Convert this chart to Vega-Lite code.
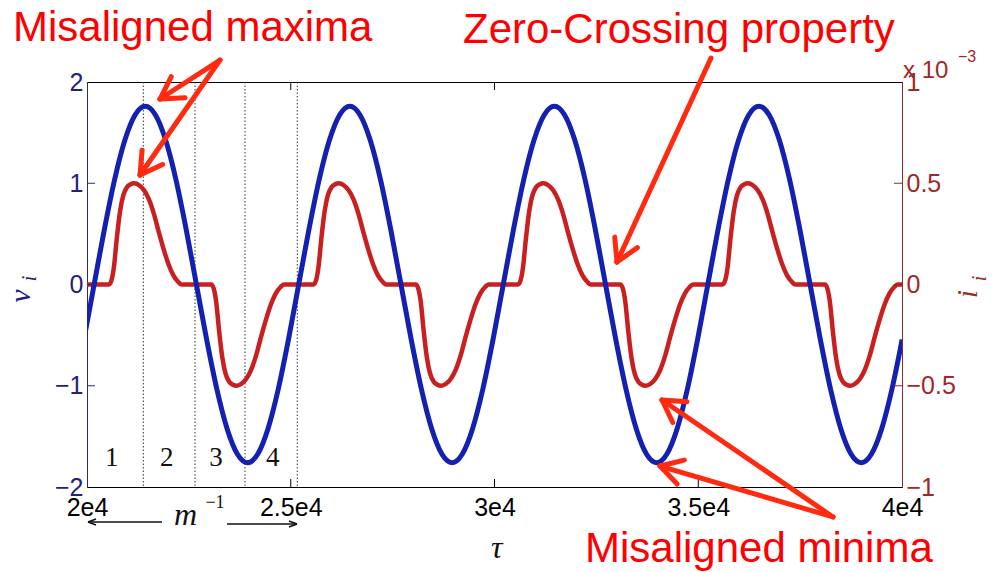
{
  "$schema": "https://vega.github.io/schema/vega-lite/v6.json",
  "width": 815,
  "height": 405,
  "autosize": {"type": "none"},
  "padding": {"left": 87, "top": 82, "right": 90, "bottom": 85},
  "background": "white",
  "config": {"view": {"stroke": "#000", "strokeWidth": 1}, "axis": {"domainWidth": 1}},
  "datasets": {
    "blue": [
      {"x":19924,"y":-0.544},{"x":20175,"y":0},{"x":20426,"y":0.544},{"x":20677,"y":1.035},{"x":20928,"y":1.424},{"x":21179,"y":1.674},
      {"x":21430,"y":1.76},{"x":21681,"y":1.674},{"x":21932,"y":1.424},{"x":22183,"y":1.035},{"x":22434,"y":0.544},{"x":22685,"y":0},
      {"x":22936,"y":-0.544},{"x":23187,"y":-1.035},{"x":23438,"y":-1.424},{"x":23689,"y":-1.674},{"x":23940,"y":-1.76},{"x":24191,"y":-1.674},
      {"x":24442,"y":-1.424},{"x":24693,"y":-1.035},{"x":24944,"y":-0.544},{"x":25195,"y":0},{"x":25446,"y":0.544},{"x":25697,"y":1.035},
      {"x":25948,"y":1.424},{"x":26199,"y":1.674},{"x":26450,"y":1.76},{"x":26701,"y":1.674},{"x":26952,"y":1.424},{"x":27203,"y":1.035},
      {"x":27454,"y":0.544},{"x":27705,"y":0},{"x":27956,"y":-0.544},{"x":28207,"y":-1.035},{"x":28458,"y":-1.424},{"x":28709,"y":-1.674},
      {"x":28960,"y":-1.76},{"x":29211,"y":-1.674},{"x":29462,"y":-1.424},{"x":29713,"y":-1.035},{"x":29964,"y":-0.544},{"x":30215,"y":0},
      {"x":30466,"y":0.544},{"x":30717,"y":1.035},{"x":30968,"y":1.424},{"x":31219,"y":1.674},{"x":31470,"y":1.76},{"x":31721,"y":1.674},
      {"x":31972,"y":1.424},{"x":32223,"y":1.035},{"x":32474,"y":0.544},{"x":32725,"y":0},{"x":32976,"y":-0.544},{"x":33227,"y":-1.035},
      {"x":33478,"y":-1.424},{"x":33729,"y":-1.674},{"x":33980,"y":-1.76},{"x":34231,"y":-1.674},{"x":34482,"y":-1.424},{"x":34733,"y":-1.035},
      {"x":34984,"y":-0.544},{"x":35235,"y":0},{"x":35486,"y":0.544},{"x":35737,"y":1.035},{"x":35988,"y":1.424},{"x":36239,"y":1.674},
      {"x":36490,"y":1.76},{"x":36741,"y":1.674},{"x":36992,"y":1.424},{"x":37243,"y":1.035},{"x":37494,"y":0.544},{"x":37745,"y":0},
      {"x":37996,"y":-0.544},{"x":38247,"y":-1.035},{"x":38498,"y":-1.424},{"x":38749,"y":-1.674},{"x":39000,"y":-1.76},{"x":39251,"y":-1.674},
      {"x":39502,"y":-1.424},{"x":39753,"y":-1.035},{"x":40004,"y":-0.544}
    ],
    "red": [
      {"x":20000,"y":0},
      {"x":20540,"y":0},{"x":20600,"y":0.02},{"x":20660,"y":0.085},{"x":20730,"y":0.225},{"x":20810,"y":0.36},{"x":20890,"y":0.44},{"x":20980,"y":0.48},{"x":21070,"y":0.495},{"x":21160,"y":0.5},{"x":21280,"y":0.49},{"x":21400,"y":0.465},{"x":21520,"y":0.42},{"x":21640,"y":0.35},{"x":21760,"y":0.26},{"x":21880,"y":0.175},{"x":22000,"y":0.1},{"x":22120,"y":0.045},{"x":22240,"y":0.0125},{"x":22320,"y":0},
      {"x":23050,"y":0},{"x":23110,"y":-0.02},{"x":23170,"y":-0.085},{"x":23240,"y":-0.225},{"x":23320,"y":-0.36},{"x":23400,"y":-0.44},{"x":23490,"y":-0.48},{"x":23580,"y":-0.495},{"x":23670,"y":-0.5},{"x":23790,"y":-0.49},{"x":23910,"y":-0.465},{"x":24030,"y":-0.42},{"x":24150,"y":-0.35},{"x":24270,"y":-0.26},{"x":24390,"y":-0.175},{"x":24510,"y":-0.1},{"x":24630,"y":-0.045},{"x":24750,"y":-0.0125},{"x":24830,"y":0},
      {"x":25560,"y":0},{"x":25620,"y":0.02},{"x":25680,"y":0.085},{"x":25750,"y":0.225},{"x":25830,"y":0.36},{"x":25910,"y":0.44},{"x":26000,"y":0.48},{"x":26090,"y":0.495},{"x":26180,"y":0.5},{"x":26300,"y":0.49},{"x":26420,"y":0.465},{"x":26540,"y":0.42},{"x":26660,"y":0.35},{"x":26780,"y":0.26},{"x":26900,"y":0.175},{"x":27020,"y":0.1},{"x":27140,"y":0.045},{"x":27260,"y":0.0125},{"x":27340,"y":0},
      {"x":28070,"y":0},{"x":28130,"y":-0.02},{"x":28190,"y":-0.085},{"x":28260,"y":-0.225},{"x":28340,"y":-0.36},{"x":28420,"y":-0.44},{"x":28510,"y":-0.48},{"x":28600,"y":-0.495},{"x":28690,"y":-0.5},{"x":28810,"y":-0.49},{"x":28930,"y":-0.465},{"x":29050,"y":-0.42},{"x":29170,"y":-0.35},{"x":29290,"y":-0.26},{"x":29410,"y":-0.175},{"x":29530,"y":-0.1},{"x":29650,"y":-0.045},{"x":29770,"y":-0.0125},{"x":29850,"y":0},
      {"x":30580,"y":0},{"x":30640,"y":0.02},{"x":30700,"y":0.085},{"x":30770,"y":0.225},{"x":30850,"y":0.36},{"x":30930,"y":0.44},{"x":31020,"y":0.48},{"x":31110,"y":0.495},{"x":31200,"y":0.5},{"x":31320,"y":0.49},{"x":31440,"y":0.465},{"x":31560,"y":0.42},{"x":31680,"y":0.35},{"x":31800,"y":0.26},{"x":31920,"y":0.175},{"x":32040,"y":0.1},{"x":32160,"y":0.045},{"x":32280,"y":0.0125},{"x":32360,"y":0},
      {"x":33090,"y":0},{"x":33150,"y":-0.02},{"x":33210,"y":-0.085},{"x":33280,"y":-0.225},{"x":33360,"y":-0.36},{"x":33440,"y":-0.44},{"x":33530,"y":-0.48},{"x":33620,"y":-0.495},{"x":33710,"y":-0.5},{"x":33830,"y":-0.49},{"x":33950,"y":-0.465},{"x":34070,"y":-0.42},{"x":34190,"y":-0.35},{"x":34310,"y":-0.26},{"x":34430,"y":-0.175},{"x":34550,"y":-0.1},{"x":34670,"y":-0.045},{"x":34790,"y":-0.0125},{"x":34870,"y":0},
      {"x":35600,"y":0},{"x":35660,"y":0.02},{"x":35720,"y":0.085},{"x":35790,"y":0.225},{"x":35870,"y":0.36},{"x":35950,"y":0.44},{"x":36040,"y":0.48},{"x":36130,"y":0.495},{"x":36220,"y":0.5},{"x":36340,"y":0.49},{"x":36460,"y":0.465},{"x":36580,"y":0.42},{"x":36700,"y":0.35},{"x":36820,"y":0.26},{"x":36940,"y":0.175},{"x":37060,"y":0.1},{"x":37180,"y":0.045},{"x":37300,"y":0.0125},{"x":37380,"y":0},
      {"x":38110,"y":0},{"x":38170,"y":-0.02},{"x":38230,"y":-0.085},{"x":38300,"y":-0.225},{"x":38380,"y":-0.36},{"x":38460,"y":-0.44},{"x":38550,"y":-0.48},{"x":38640,"y":-0.495},{"x":38730,"y":-0.5},{"x":38850,"y":-0.49},{"x":38970,"y":-0.465},{"x":39090,"y":-0.42},{"x":39210,"y":-0.35},{"x":39330,"y":-0.26},{"x":39450,"y":-0.175},{"x":39570,"y":-0.1},{"x":39690,"y":-0.045},{"x":39810,"y":-0.0125},{"x":39890,"y":0},{"x":40000,"y":0}
    ],
    "vlines": [{"x":21382},{"x":22650},{"x":23877},{"x":25160}],
    "ticks": [
      {"side":"left","x":20000,"x2":20196,"y":-1,"y2":-1},
      {"side":"left","x":20000,"x2":20196,"y":0,"y2":0},
      {"side":"left","x":20000,"x2":20196,"y":1,"y2":1},
      {"side":"right","x":40000,"x2":39804,"y":-1,"y2":-1},
      {"side":"right","x":40000,"x2":39804,"y":0,"y2":0},
      {"side":"right","x":40000,"x2":39804,"y":1,"y2":1},
      {"side":"x","x":25000,"x2":25000,"y":-2,"y2":-1.921},
      {"side":"x","x":30000,"x2":30000,"y":-2,"y2":-1.921},
      {"side":"x","x":35000,"x2":35000,"y":-2,"y2":-1.921},
      {"side":"x","x":25000,"x2":25000,"y":2,"y2":1.921},
      {"side":"x","x":30000,"x2":30000,"y":2,"y2":1.921},
      {"side":"x","x":35000,"x2":35000,"y":2,"y2":1.921}
    ],
    "arrows": [
      {"g":"red","x":23264,"y":2.217,"x2":21791,"y2":1.832},
      {"g":"red","x":21791,"y":1.832,"x2":22405,"y2":1.845},
      {"g":"red","x":21791,"y":1.832,"x2":22069,"y2":2.052},
      {"g":"red","x":23264,"y":2.217,"x2":21301,"y2":1.081},
      {"g":"red","x":21301,"y":1.081,"x2":21855,"y2":1.186},
      {"g":"red","x":21301,"y":1.081,"x2":21352,"y2":1.327},
      {"g":"red","x":35313,"y":2.237,"x2":33006,"y2":0.222},
      {"g":"red","x":33006,"y":0.222,"x2":33507,"y2":0.364},
      {"g":"red","x":33006,"y":0.222,"x2":32950,"y2":0.468},
      {"g":"red","x":38307,"y":-2.296,"x2":34111,"y2":-1.141},
      {"g":"red","x":34111,"y":-1.141,"x2":34375,"y2":-1.363},
      {"g":"red","x":34111,"y":-1.141,"x2":34722,"y2":-1.159},
      {"g":"red","x":38307,"y":-2.296,"x2":34061,"y2":-1.793},
      {"g":"red","x":34061,"y":-1.793,"x2":34483,"y2":-1.971},
      {"g":"red","x":34061,"y":-1.793,"x2":34658,"y2":-1.734},
      {"g":"black","x":21841,"y":-2.346,"x2":20025,"y2":-2.346},
      {"g":"black","x":20025,"y":-2.346,"x2":20221,"y2":-2.316},
      {"g":"black","x":20025,"y":-2.346,"x2":20221,"y2":-2.375},
      {"g":"black","x":23436,"y":-2.365,"x2":25153,"y2":-2.365},
      {"g":"black","x":25153,"y":-2.365,"x2":24957,"y2":-2.336},
      {"g":"black","x":25153,"y":-2.365,"x2":24957,"y2":-2.395}
    ]
  },
  "resolve": {"scale": {"y": "independent"}},
  "encoding": {
    "x": {"field": "x", "type": "quantitative", "scale": {"domain": [20000, 40000], "nice": false, "zero": false},
      "axis": {"values": [20000, 25000, 30000, 35000, 40000], "labelExpr": "datum.value / 10000 + 'e4'", "labelFont": "Liberation Sans", "labelFontSize": 25, "labelColor": "#000", "labelPadding": 8, "labelFlush": false, "labelOverlap": false, "ticks": false, "grid": false, "domainColor": "#000", "title": null}}
  },
  "layer": [
    {
      "data": {"name": "vlines"},
      "mark": {"type": "rule", "color": "#333", "strokeWidth": 1, "strokeDash": [1.5, 2]},
      "encoding": {}
    },
    {
      "data": {"name": "red"},
      "mark": {"type": "line", "color": "#c82020", "strokeWidth": 4.5, "interpolate": "monotone"},
      "encoding": {
        "y": {"field": "y", "type": "quantitative", "scale": {"domain": [-1, 1], "nice": false, "zero": false},
          "axis": {"orient": "right", "values": [-1, -0.5, 0, 0.5, 1], "format": "~g", "labelFont": "Liberation Sans", "labelFontSize": 25, "labelColor": "#a02828", "labelPadding": 4, "ticks": false, "grid": false, "domainColor": "#8a2a2a", "title": null, "labelOverlap": false}}
      }
    },
    {
      "data": {"name": "blue"},
      "mark": {"type": "line", "color": "#1420b0", "strokeWidth": 5, "interpolate": "monotone", "clip": true},
      "encoding": {
        "y": {"field": "y", "type": "quantitative", "scale": {"domain": [-2, 2], "nice": false, "zero": false},
          "axis": {"values": [-2, -1, 0, 1, 2], "format": "d", "labelFont": "Liberation Sans", "labelFontSize": 25, "labelColor": "#22227a", "labelPadding": 4, "ticks": false, "grid": false, "domainColor": "#2c2c6c", "title": null, "labelOverlap": false}}
      }
    },
    {
      "data": {"name": "ticks"},
      "mark": {"type": "rule", "strokeWidth": 1},
      "encoding": {
        "x2": {"field": "x2"},
        "y": {"field": "y", "type": "quantitative", "scale": {"domain": [-2, 2], "nice": false, "zero": false}, "axis": null},
        "y2": {"field": "y2"},
        "color": {"field": "side", "type": "nominal", "scale": {"domain": ["x", "left", "right"], "range": ["#000000", "#2c2c6c", "#8a2a2a"]}, "legend": null}
      }
    },
    {
      "data": {"name": "arrows"},
      "transform": [{"filter": "datum.g === 'red'"}],
      "mark": {"type": "rule", "color": "#ff2a10", "strokeWidth": 5, "strokeCap": "round"},
      "encoding": {
        "x2": {"field": "x2"},
        "y": {"field": "y", "type": "quantitative", "scale": {"domain": [-2, 2], "nice": false, "zero": false}, "axis": null},
        "y2": {"field": "y2"}
      }
    },
    {
      "data": {"name": "arrows"},
      "transform": [{"filter": "datum.g === 'black'"}],
      "mark": {"type": "rule", "color": "#111", "strokeWidth": 1.5},
      "encoding": {
        "x2": {"field": "x2"},
        "y": {"field": "y", "type": "quantitative", "scale": {"domain": [-2, 2], "nice": false, "zero": false}, "axis": null},
        "y2": {"field": "y2"}
      }
    },
    {
      "data": {"values": [
        {"x": 18184, "y": 2.405, "label": "Misaligned maxima"},
        {"x": 29227, "y": 2.385, "label": "Zero-Crossing property"},
        {"x": 32221, "y": -2.741, "label": "Misaligned minima"}
      ]},
      "mark": {"type": "text", "font": "Liberation Sans", "fontSize": 42, "color": "#ff0000", "align": "left", "baseline": "alphabetic"},
      "encoding": {
        "y": {"field": "y", "type": "quantitative", "scale": {"domain": [-2, 2], "nice": false, "zero": false}, "axis": null},
        "text": {"field": "label"}
      }
    },
    {
      "data": {"values": [
        {"x": 20606, "y": -1.714, "label": "1"},
        {"x": 21956, "y": -1.714, "label": "2"},
        {"x": 23166, "y": -1.714, "label": "3"},
        {"x": 24557, "y": -1.714, "label": "4"}
      ]},
      "mark": {"type": "text", "font": "Liberation Serif", "fontSize": 27, "color": "#111", "align": "center", "baseline": "middle"},
      "encoding": {
        "y": {"field": "y", "type": "quantitative", "scale": {"domain": [-2, 2], "nice": false, "zero": false}, "axis": null},
        "text": {"field": "label"}
      }
    },
    {
      "data": {"values": [
        {"x": 22417, "y": -2.277, "label": "m"},
        {"x": 30054, "y": -2.602, "label": "τ"}
      ]},
      "mark": {"type": "text", "font": "Liberation Serif", "fontSize": 32, "fontStyle": "italic", "color": "#111", "align": "center", "baseline": "middle"},
      "encoding": {
        "y": {"field": "y", "type": "quantitative", "scale": {"domain": [-2, 2], "nice": false, "zero": false}, "axis": null},
        "text": {"field": "label"}
      }
    },
    {
      "data": {"values": [
        {"x": 23141, "y": -2.158, "label": "−1"}
      ]},
      "mark": {"type": "text", "font": "Liberation Serif", "fontSize": 18, "color": "#111", "align": "center", "baseline": "middle"},
      "encoding": {
        "y": {"field": "y", "type": "quantitative", "scale": {"domain": [-2, 2], "nice": false, "zero": false}, "axis": null},
        "text": {"field": "label"}
      }
    },
    {
      "data": {"values": [
        {"x": 18380, "y": -0.114, "label": "v"}
      ]},
      "mark": {"type": "text", "font": "Liberation Serif", "fontSize": 30, "fontStyle": "italic", "color": "#1c1c8a", "align": "center", "baseline": "middle", "angle": 270},
      "encoding": {
        "y": {"field": "y", "type": "quantitative", "scale": {"domain": [-2, 2], "nice": false, "zero": false}, "axis": null},
        "text": {"field": "label"}
      }
    },
    {
      "data": {"values": [
        {"x": 18600, "y": 0.06, "label": "i"}
      ]},
      "mark": {"type": "text", "font": "Liberation Serif", "fontSize": 20, "fontStyle": "italic", "color": "#1c1c8a", "align": "center", "baseline": "middle", "angle": 270},
      "encoding": {
        "y": {"field": "y", "type": "quantitative", "scale": {"domain": [-2, 2], "nice": false, "zero": false}, "axis": null},
        "text": {"field": "label"}
      }
    },
    {
      "data": {"values": [
        {"x": 41620, "y": -0.094, "label": "i"}
      ]},
      "mark": {"type": "text", "font": "Liberation Serif", "fontSize": 30, "fontStyle": "italic", "color": "#9a2a2a", "align": "center", "baseline": "middle", "angle": 270},
      "encoding": {
        "y": {"field": "y", "type": "quantitative", "scale": {"domain": [-2, 2], "nice": false, "zero": false}, "axis": null},
        "text": {"field": "label"}
      }
    },
    {
      "data": {"values": [
        {"x": 41920, "y": 0.06, "label": "i"}
      ]},
      "mark": {"type": "text", "font": "Liberation Serif", "fontSize": 20, "fontStyle": "italic", "color": "#9a2a2a", "align": "center", "baseline": "middle", "angle": 270},
      "encoding": {
        "y": {"field": "y", "type": "quantitative", "scale": {"domain": [-2, 2], "nice": false, "zero": false}, "axis": null},
        "text": {"field": "label"}
      }
    },
    {
      "data": {"values": [
        {"x": 40025, "y": 2.044, "label": "x 10"}
      ]},
      "mark": {"type": "text", "font": "Liberation Sans", "fontSize": 24, "color": "#a02828", "align": "left", "baseline": "alphabetic"},
      "encoding": {
        "y": {"field": "y", "type": "quantitative", "scale": {"domain": [-2, 2], "nice": false, "zero": false}, "axis": null},
        "text": {"field": "label"}
      }
    },
    {
      "data": {"values": [
        {"x": 41374, "y": 2.198, "label": "−3"}
      ]},
      "mark": {"type": "text", "font": "Liberation Sans", "fontSize": 16, "color": "#a02828", "align": "left", "baseline": "alphabetic"},
      "encoding": {
        "y": {"field": "y", "type": "quantitative", "scale": {"domain": [-2, 2], "nice": false, "zero": false}, "axis": null},
        "text": {"field": "label"}
      }
    }
  ]
}
